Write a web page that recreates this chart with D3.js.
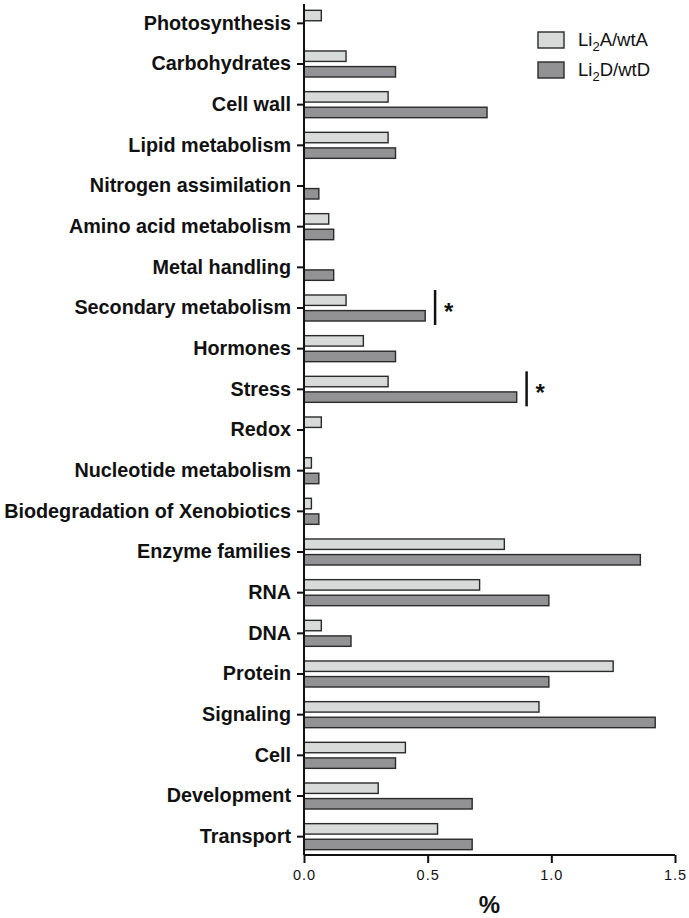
<!DOCTYPE html>
<html>
<head>
<meta charset="utf-8">
<script src="https://cdn.jsdelivr.net/npm/d3@7"></script>
<style>
  html, body { margin: 0; padding: 0; background: #fff; }
  svg { display: block; }
  text { font-family: "Liberation Sans", Arial, Helvetica, sans-serif; }
</style>
</head>
<body>
<svg id="chart" width="689" height="918"></svg>
<script>
const categories = [
  "Photosynthesis", "Carbohydrates", "Cell wall", "Lipid metabolism",
  "Nitrogen assimilation", "Amino acid metabolism", "Metal handling",
  "Secondary metabolism", "Hormones", "Stress", "Redox",
  "Nucleotide metabolism", "Biodegradation of Xenobiotics", "Enzyme families",
  "RNA", "DNA", "Protein", "Signaling", "Cell", "Development", "Transport"
];
const seriesNames = ["Li2A/wtA", "Li2D/wtD"];
const valuesA = [0.07, 0.17, 0.34, 0.34, 0, 0.10, 0, 0.17, 0.24, 0.34, 0.07,
                 0.03, 0.03, 0.81, 0.71, 0.07, 1.25, 0.95, 0.41, 0.30, 0.54];
const valuesD = [0, 0.37, 0.74, 0.37, 0.06, 0.12, 0.12, 0.49, 0.37, 0.86, 0,
                 0.06, 0.06, 1.36, 0.99, 0.19, 0.99, 1.42, 0.37, 0.68, 0.68];
const xTicks = [0, 0.5, 1.0, 1.5];
const significant = ["Secondary metabolism", "Stress"];

const colors = ["#d8d9d9", "#929294"];
const svg = d3.select("#chart");

const x = d3.scaleLinear().domain([0, 1.5]).range([304, 675]);
const y = d3.scaleBand().domain(categories).range([3, 857]).paddingInner(0.36).paddingOuter(0.18);
const yInner = d3.scaleBand().domain(seriesNames).range([0, y.bandwidth()]).paddingInner(0.33);

const rows = categories.map((c, i) => ({ cat: c, vals: [valuesA[i], valuesD[i]] }));

// bars
const g = svg.append("g");
rows.forEach(r => {
  r.vals.forEach((v, j) => {
    if (v <= 0) return;
    g.append("rect")
      .attr("x", x(0))
      .attr("y", y(r.cat) + yInner(seriesNames[j]))
      .attr("width", x(v) - x(0))
      .attr("height", yInner.bandwidth())
      .attr("fill", colors[j])
      .attr("stroke", "#2a2a2a")
      .attr("stroke-width", 1.4);
  });
});

// significance markers
significant.forEach(c => {
  const i = categories.indexOf(c);
  const xv = x(Math.max(valuesA[i], valuesD[i]) + 0.04);
  const yc = y(c) + y.bandwidth() / 2;
  svg.append("line")
    .attr("x1", xv).attr("x2", xv)
    .attr("y1", yc - 18).attr("y2", yc + 17)
    .attr("stroke", "#111").attr("stroke-width", 2.5);
  svg.append("text")
    .attr("x", xv + 9).attr("y", yc + 12)
    .attr("font-size", 24).attr("font-weight", "bold")
    .attr("fill", "#111")
    .text("*");
});

// y axis
const yAxis = svg.append("g")
  .attr("transform", `translate(${x(0)},0)`)
  .call(d3.axisLeft(y).tickSize(7).tickPadding(6));
yAxis.select(".domain").attr("stroke", "#111").attr("stroke-width", 2)
  .attr("d", `M0,4V855`);
yAxis.selectAll(".tick line").attr("stroke", "#111").attr("stroke-width", 2);
yAxis.selectAll(".tick text")
  .attr("font-size", 19.8).attr("font-weight", "bold").attr("fill", "#111")
  .attr("font-family", "'Liberation Sans', Arial, sans-serif");

// x axis
const xAxis = svg.append("g")
  .attr("transform", `translate(0,855)`)
  .call(d3.axisBottom(x).tickValues(xTicks).tickFormat(d3.format(".1f")).tickSize(8).tickPadding(7));
xAxis.select(".domain").attr("stroke", "#111").attr("stroke-width", 2)
  .attr("d", `M${x(0)},0H${x(1.5)}`);
xAxis.selectAll(".tick line").attr("stroke", "#111").attr("stroke-width", 2);
xAxis.selectAll(".tick text")
  .attr("font-size", 14.5).attr("fill", "#111").attr("letter-spacing", 1)
  .attr("font-family", "'Liberation Sans', Arial, sans-serif");

svg.append("text")
  .attr("x", (x(0) + x(1.5)) / 2).attr("y", 913)
  .attr("text-anchor", "middle")
  .attr("font-size", 24).attr("font-weight", "bold").attr("fill", "#111")
  .text("%");

// legend
const legend = svg.append("g");
seriesNames.forEach((s, j) => {
  const ly = 32 + j * 30;
  legend.append("rect")
    .attr("x", 538).attr("y", ly).attr("width", 26).attr("height", 16)
    .attr("fill", colors[j]).attr("stroke", "#2a2a2a").attr("stroke-width", 1.4);
  const parts = s.split("2");
  const t = legend.append("text")
    .attr("x", 578).attr("y", ly + 14)
    .attr("font-size", 18.5).attr("fill", "#111");
  t.append("tspan").text(parts[0]);
  t.append("tspan").attr("dy", 5).attr("font-size", 13).text("2");
  t.append("tspan").attr("dy", -5).text(parts[1]);
});
</script>
</body>
</html>
